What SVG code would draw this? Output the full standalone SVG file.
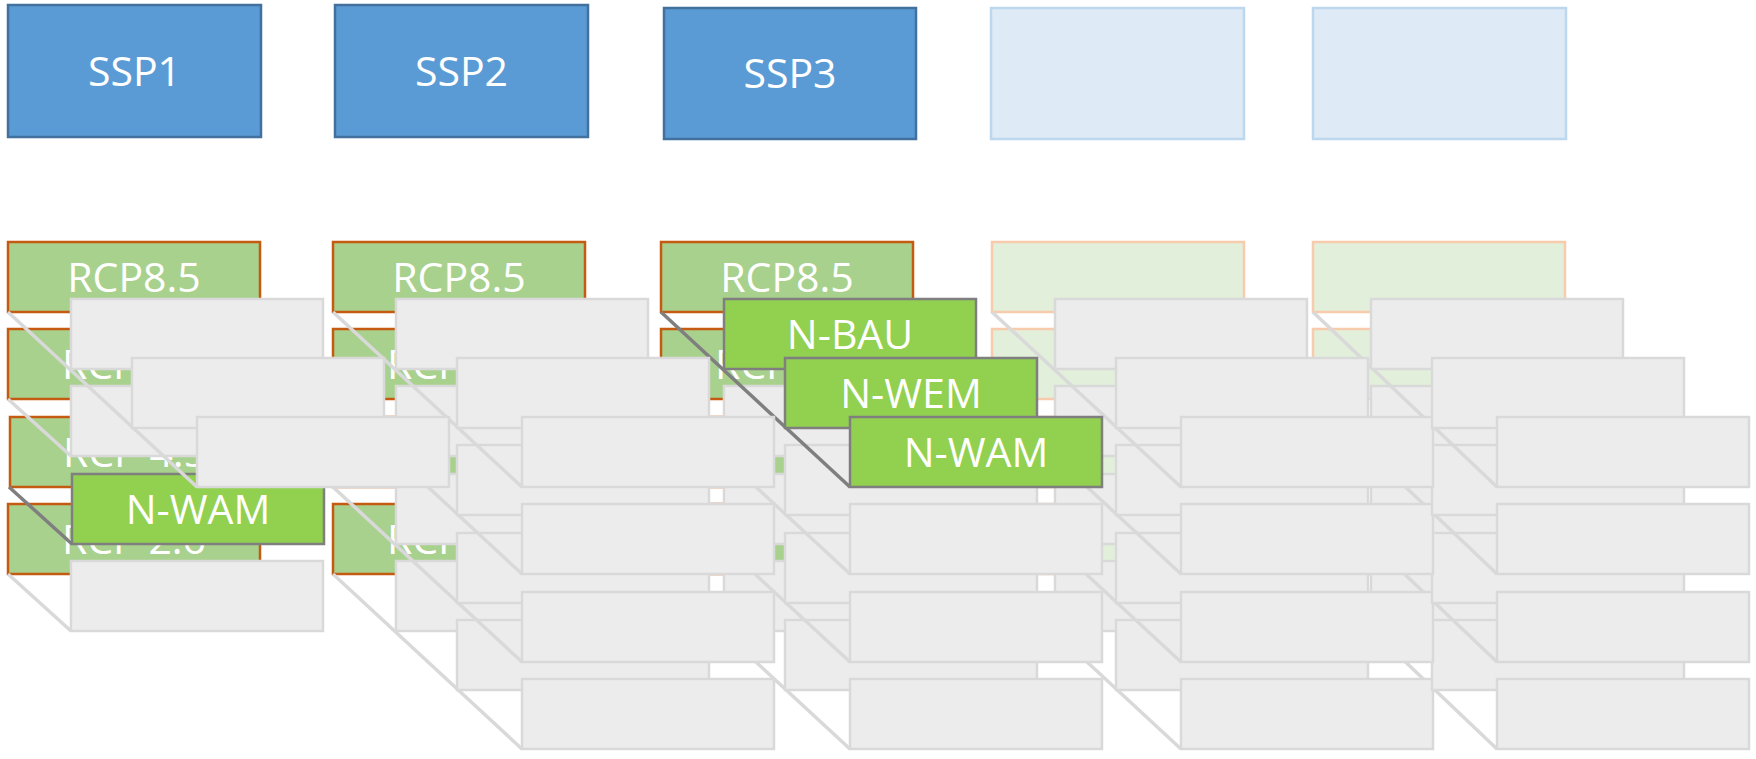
<svg xmlns="http://www.w3.org/2000/svg" width="1756" height="759" viewBox="0 0 1756 759">
  <style>
    .ssp { fill: #5B9BD5; stroke: #41719C; stroke-width: 2.5; }
    .ssp-off { fill: #DEEAF6; stroke: #BDD7EE; stroke-width: 2.5; }
    .rcp { fill: #A9D18E; stroke: #C55A11; stroke-width: 2.5; }
    .rcp-off { fill: #E2EFDA; stroke: #F8CBAD; stroke-width: 2.5; }
    .box { fill: #ECECEC; stroke: #D9D9D9; stroke-width: 2.5; }
    .nbox { fill: #92D050; stroke: #7F7F7F; stroke-width: 2.5; }
    .edge { stroke: #D9D9D9; stroke-width: 3.5; fill: none; }
    .edge-on { stroke: #7F7F7F; stroke-width: 3.5; fill: none; }
    .lbl { fill: #FFFFFF; font-family: "Open Sans", "Liberation Sans", sans-serif; font-size: 41px; text-anchor: middle; }
  </style>
  <defs>
    <rect id="cell" width="252" height="70"/>
  </defs>
  <rect width="1756" height="759" fill="#FFFFFF"/>

  <!-- scenario headers -->
  <g id="ssp-row">
    <g id="ssp1"><rect class="ssp" x="8" y="5" width="253" height="132"/><text class="lbl" x="134.5" y="86">SSP1</text></g>
    <g id="ssp2"><rect class="ssp" x="335" y="5" width="253" height="132"/><text class="lbl" x="461.5" y="86">SSP2</text></g>
    <g id="ssp3"><rect class="ssp" x="664" y="8" width="252" height="131"/><text class="lbl" x="790" y="88">SSP3</text></g>
    <g id="ssp4"><rect class="ssp-off" x="991" y="8" width="253" height="131"/></g>
    <g id="ssp5"><rect class="ssp-off" x="1313" y="8" width="253" height="131"/></g>
  </g>

  <!-- layer: fourth forcing row (drawn first, furthest back) -->
  <g id="row4">
    <g id="c1-r4"><rect class="rcp" x="8" y="504" width="252" height="70"/><text class="lbl" x="134" y="554">RCP 2.6</text></g>
    <g id="c2-r4"><rect class="rcp" x="333" y="504" width="252" height="70"/><text class="lbl" x="459" y="554">RCP 2.6</text></g>
    <g id="c3-r4"><rect class="rcp" x="661" y="504" width="252" height="70"/><text class="lbl" x="787" y="554">RCP 2.6</text></g>
    <g id="c4-r4"><rect class="rcp-off" x="992" y="504" width="252" height="70"/></g>
    <g id="c5-r4"><rect class="rcp-off" x="1313" y="504" width="252" height="70"/></g>
    <g id="row4-connectors">
      <line class="edge" x1="8" y1="574" x2="71" y2="631"/>
      <line class="edge" x1="333" y1="574" x2="522" y2="749"/>
      <line class="edge" x1="661" y1="574" x2="850" y2="749"/>
      <line class="edge" x1="992" y1="574" x2="1181" y2="749"/>
      <line class="edge" x1="1313" y1="574" x2="1497" y2="749"/>
    </g>
    <g id="c1-r4-n1"><use href="#cell" class="box" x="71" y="561"/></g>
    <g id="c2-r4-n1"><use href="#cell" class="box" x="396" y="561"/></g>
    <g id="c2-r4-n2"><use href="#cell" class="box" x="457" y="620"/></g>
    <g id="c2-r4-n3"><use href="#cell" class="box" x="522" y="679"/></g>
    <g id="c3-r4-n1"><use href="#cell" class="box" x="724" y="561"/></g>
    <g id="c3-r4-n2"><use href="#cell" class="box" x="785" y="620"/></g>
    <g id="c3-r4-n3"><use href="#cell" class="box" x="850" y="679"/></g>
    <g id="c4-r4-n1"><use href="#cell" class="box" x="1055" y="561"/></g>
    <g id="c4-r4-n2"><use href="#cell" class="box" x="1116" y="620"/></g>
    <g id="c4-r4-n3"><use href="#cell" class="box" x="1181" y="679"/></g>
    <g id="c5-r4-n1"><use href="#cell" class="box" x="1371" y="561"/></g>
    <g id="c5-r4-n2"><use href="#cell" class="box" x="1432" y="620"/></g>
    <g id="c5-r4-n3"><use href="#cell" class="box" x="1497" y="679"/></g>
  </g>

  <!-- layer: third forcing row -->
  <g id="row3">
    <g id="c1-r3"><rect class="rcp" x="10" y="417" width="250" height="70"/><text class="lbl" x="135" y="467">RCP 4.5</text></g>
    <g id="c2-r3"><rect class="rcp" x="333" y="417" width="252" height="70"/><text class="lbl" x="459" y="467">RCP 4.5</text></g>
    <g id="c3-r3"><rect class="rcp" x="661" y="417" width="252" height="70"/><text class="lbl" x="787" y="467">RCP 4.5</text></g>
    <g id="c4-r3"><rect class="rcp-off" x="992" y="417" width="252" height="70"/></g>
    <g id="c5-r3"><rect class="rcp-off" x="1313" y="417" width="252" height="70"/></g>
    <g id="row3-connectors">
      <line class="edge-on" x1="9" y1="487" x2="72" y2="544"/>
      <line class="edge" x1="333" y1="487" x2="522" y2="662"/>
      <line class="edge" x1="661" y1="487" x2="850" y2="662"/>
      <line class="edge" x1="992" y1="487" x2="1181" y2="662"/>
      <line class="edge" x1="1313" y1="487" x2="1497" y2="662"/>
    </g>
    <g id="c1-r3-wam"><rect class="nbox" x="72" y="474" width="252" height="70"/><text class="lbl" x="198" y="524">N-WAM</text></g>
    <g id="c2-r3-n1"><use href="#cell" class="box" x="396" y="474"/></g>
    <g id="c2-r3-n2"><use href="#cell" class="box" x="457" y="533"/></g>
    <g id="c2-r3-n3"><use href="#cell" class="box" x="522" y="592"/></g>
    <g id="c3-r3-n1"><use href="#cell" class="box" x="724" y="474"/></g>
    <g id="c3-r3-n2"><use href="#cell" class="box" x="785" y="533"/></g>
    <g id="c3-r3-n3"><use href="#cell" class="box" x="850" y="592"/></g>
    <g id="c4-r3-n1"><use href="#cell" class="box" x="1055" y="474"/></g>
    <g id="c4-r3-n2"><use href="#cell" class="box" x="1116" y="533"/></g>
    <g id="c4-r3-n3"><use href="#cell" class="box" x="1181" y="592"/></g>
    <g id="c5-r3-n1"><use href="#cell" class="box" x="1371" y="474"/></g>
    <g id="c5-r3-n2"><use href="#cell" class="box" x="1432" y="533"/></g>
    <g id="c5-r3-n3"><use href="#cell" class="box" x="1497" y="592"/></g>
  </g>

  <!-- layer: second forcing row -->
  <g id="row2">
    <g id="c1-r2"><rect class="rcp" x="8" y="329" width="252" height="70"/><text class="lbl" x="134" y="379">RCP 6.0</text></g>
    <g id="c2-r2"><rect class="rcp" x="333" y="329" width="252" height="70"/><text class="lbl" x="459" y="379">RCP 6.0</text></g>
    <g id="c3-r2"><rect class="rcp" x="661" y="329" width="252" height="70"/><text class="lbl" x="787" y="379">RCP 6.0</text></g>
    <g id="c4-r2"><rect class="rcp-off" x="992" y="329" width="252" height="70"/></g>
    <g id="c5-r2"><rect class="rcp-off" x="1313" y="329" width="252" height="70"/></g>
    <g id="row2-connectors">
      <line class="edge" x1="8" y1="399" x2="71" y2="456"/>
      <line class="edge" x1="333" y1="399" x2="522" y2="574"/>
      <line class="edge" x1="661" y1="399" x2="850" y2="574"/>
      <line class="edge" x1="992" y1="399" x2="1181" y2="574"/>
      <line class="edge" x1="1313" y1="399" x2="1497" y2="574"/>
    </g>
    <g id="c1-r2-n1"><use href="#cell" class="box" x="71" y="386"/></g>
    <g id="c2-r2-n1"><use href="#cell" class="box" x="396" y="386"/></g>
    <g id="c2-r2-n2"><use href="#cell" class="box" x="457" y="445"/></g>
    <g id="c2-r2-n3"><use href="#cell" class="box" x="522" y="504"/></g>
    <g id="c3-r2-n1"><use href="#cell" class="box" x="724" y="386"/></g>
    <g id="c3-r2-n2"><use href="#cell" class="box" x="785" y="445"/></g>
    <g id="c3-r2-n3"><use href="#cell" class="box" x="850" y="504"/></g>
    <g id="c4-r2-n1"><use href="#cell" class="box" x="1055" y="386"/></g>
    <g id="c4-r2-n2"><use href="#cell" class="box" x="1116" y="445"/></g>
    <g id="c4-r2-n3"><use href="#cell" class="box" x="1181" y="504"/></g>
    <g id="c5-r2-n1"><use href="#cell" class="box" x="1371" y="386"/></g>
    <g id="c5-r2-n2"><use href="#cell" class="box" x="1432" y="445"/></g>
    <g id="c5-r2-n3"><use href="#cell" class="box" x="1497" y="504"/></g>
  </g>

  <!-- layer: first forcing row (front) -->
  <g id="row1">
    <g id="c1-r1"><rect class="rcp" x="8" y="242" width="252" height="70"/><text class="lbl" x="134" y="292">RCP8.5</text></g>
    <g id="c2-r1"><rect class="rcp" x="333" y="242" width="252" height="70"/><text class="lbl" x="459" y="292">RCP8.5</text></g>
    <g id="c3-r1"><rect class="rcp" x="661" y="242" width="252" height="70"/><text class="lbl" x="787" y="292">RCP8.5</text></g>
    <g id="c4-r1"><rect class="rcp-off" x="992" y="242" width="252" height="70"/></g>
    <g id="c5-r1"><rect class="rcp-off" x="1313" y="242" width="252" height="70"/></g>
    <g id="row1-connectors">
      <line class="edge" x1="8" y1="312" x2="197" y2="487"/>
      <line class="edge" x1="333" y1="312" x2="522" y2="487"/>
      <line class="edge-on" x1="661" y1="312" x2="850" y2="487"/>
      <line class="edge" x1="992" y1="312" x2="1181" y2="487"/>
      <line class="edge" x1="1313" y1="312" x2="1497" y2="487"/>
    </g>
    <g id="c1-r1-n1"><use href="#cell" class="box" x="71" y="299"/></g>
    <g id="c1-r1-n2"><use href="#cell" class="box" x="132" y="358"/></g>
    <g id="c1-r1-n3"><use href="#cell" class="box" x="197" y="417"/></g>
    <g id="c2-r1-n1"><use href="#cell" class="box" x="396" y="299"/></g>
    <g id="c2-r1-n2"><use href="#cell" class="box" x="457" y="358"/></g>
    <g id="c2-r1-n3"><use href="#cell" class="box" x="522" y="417"/></g>
    <g id="c3-r1-bau"><rect class="nbox" x="724" y="299" width="252" height="70"/><text class="lbl" x="850" y="349">N-BAU</text></g>
    <g id="c3-r1-wem"><rect class="nbox" x="785" y="358" width="252" height="70"/><text class="lbl" x="911" y="408">N-WEM</text></g>
    <g id="c3-r1-wam"><rect class="nbox" x="850" y="417" width="252" height="70"/><text class="lbl" x="976" y="467">N-WAM</text></g>
    <g id="c4-r1-n1"><use href="#cell" class="box" x="1055" y="299"/></g>
    <g id="c4-r1-n2"><use href="#cell" class="box" x="1116" y="358"/></g>
    <g id="c4-r1-n3"><use href="#cell" class="box" x="1181" y="417"/></g>
    <g id="c5-r1-n1"><use href="#cell" class="box" x="1371" y="299"/></g>
    <g id="c5-r1-n2"><use href="#cell" class="box" x="1432" y="358"/></g>
    <g id="c5-r1-n3"><use href="#cell" class="box" x="1497" y="417"/></g>
  </g>
</svg>
